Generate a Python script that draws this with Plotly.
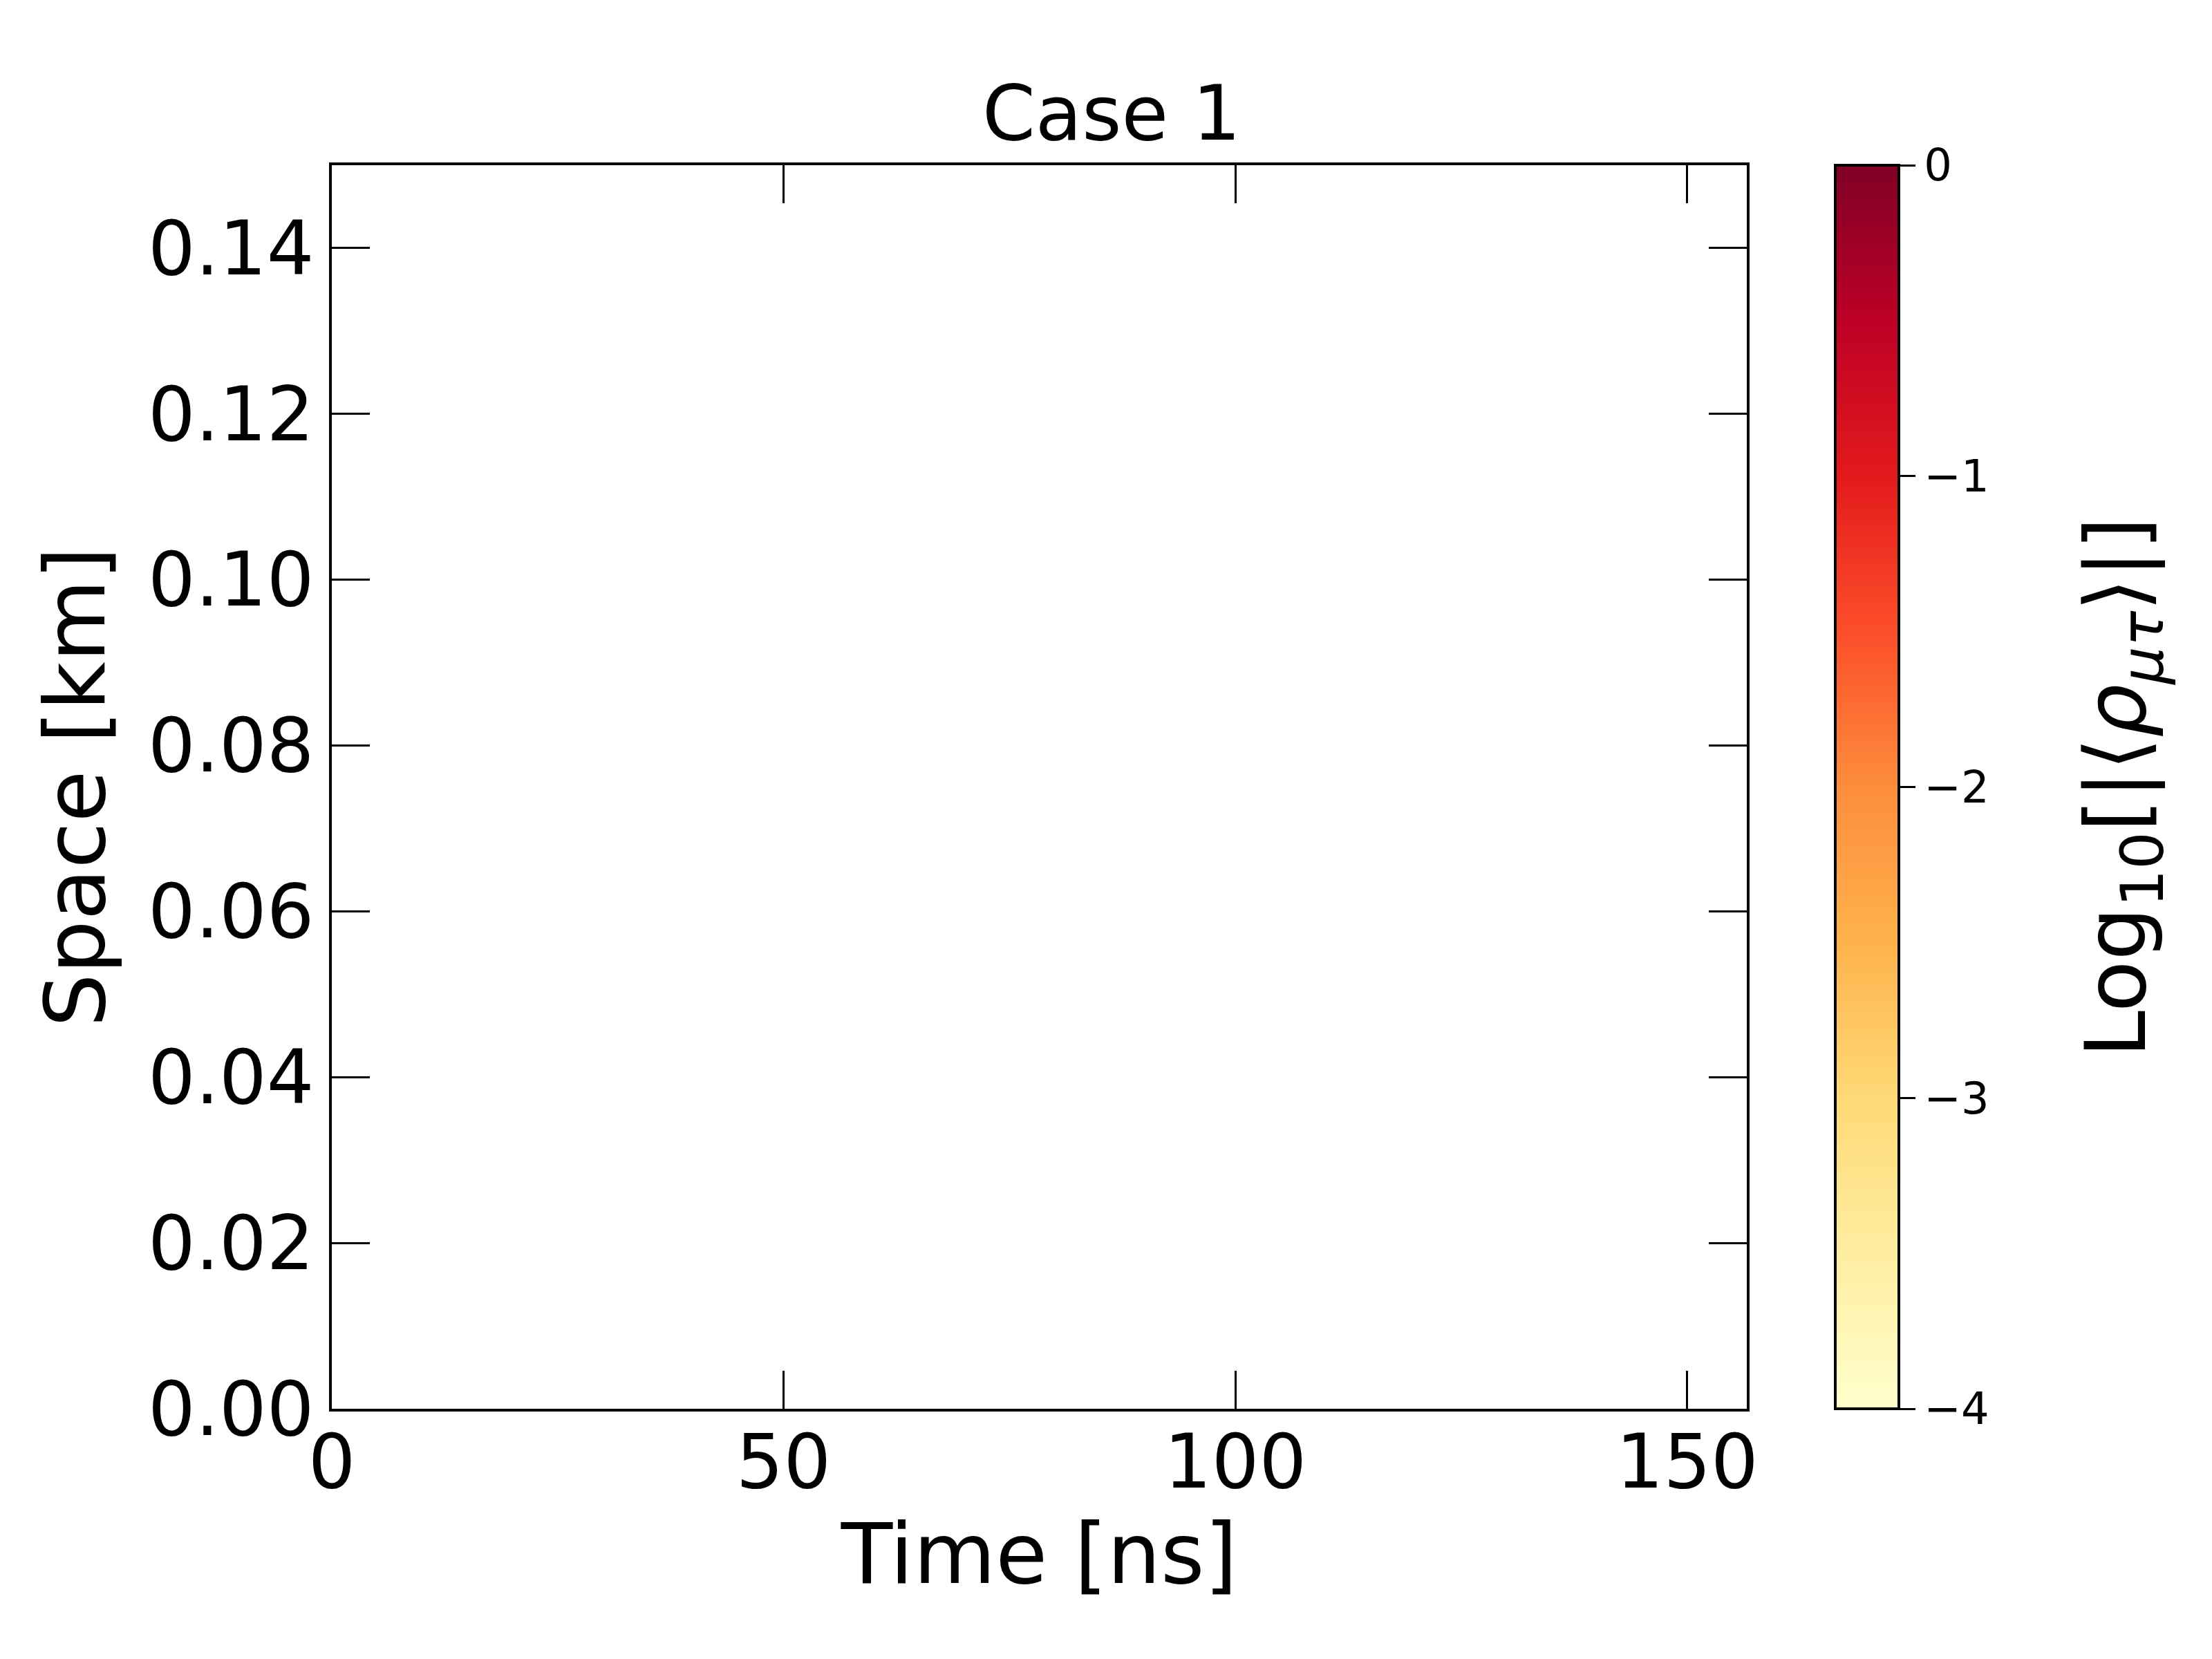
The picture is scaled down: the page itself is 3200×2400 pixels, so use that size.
import plotly.graph_objects as go

# grid of the simulation: time in ns, space in km
time_ns = [0.0, 156.6]
space_km = [0.0, 0.15]
# log10 |<rho_mu_tau>| -- nothing above the colour floor, so every cell is empty
log_rho = [[None, None], [None, None]]

cb_ticks = [0, -1, -2, -3, -4]
cb_range = [-4, 0]
ylorrd = ["#ffffcc", "#ffeda0", "#fed976", "#feb24c", "#fd8d3c",
          "#fc4e2a", "#e31a1c", "#bd0026", "#800026"]
scale = [[i / (len(ylorrd) - 1), c] for i, c in enumerate(ylorrd)]

FONT = "DejaVu Sans"

fig = go.Figure()
fig.add_trace(go.Heatmap(
    x=time_ns, y=space_km, z=log_rho,
    zmin=cb_range[0], zmax=cb_range[1], colorscale=scale, showscale=False,
))

# an empty-looking carrier for the colour bar (heatmap with no values hides it)
fig.add_trace(go.Scatter(
    x=[None, None], y=[None, None], mode="markers", showlegend=False,
    marker=dict(
        color=cb_range, cmin=cb_range[0], cmax=cb_range[1], colorscale=scale,
        showscale=True,
        colorbar=dict(
            x=1.0625, xanchor="left", xref="paper", xpad=0, ypad=0,
            y=0.5, yanchor="middle", len=1, lenmode="fraction",
            thickness=92, thicknessmode="pixels",
            outlinewidth=4, outlinecolor="black",
            tickvals=cb_ticks, ticks="outside", ticklen=22, tickwidth=3,
            tickprefix="\u2002",
            tickcolor="black", tickfont=dict(family=FONT, size=64, color="black"),
        ),
    ),
))

# colour bar label, placed by hand so it sits as far out as in the original
fig.add_annotation(
    text="Log<sub>10</sub>[|⟨<i>ρ</i><sub><i>μτ</i></sub>⟩|]",
    xref="paper", yref="paper", x=1.265, y=0.5,
    xanchor="center", yanchor="middle", textangle=-90, showarrow=False,
    font=dict(family=FONT, size=122, color="black"),
)

axis_common = dict(
    showline=True, linewidth=4, linecolor="black", mirror="ticks",
    ticks="inside", ticklen=55, tickwidth=3, tickcolor="black",
    showgrid=False, zeroline=False,
    tickfont=dict(family=FONT, size=108, color="black"),
)

fig.update_layout(
    width=3200, height=2400,
    margin=dict(l=472, r=681, t=231, b=370),
    paper_bgcolor="white", plot_bgcolor="white",
    font=dict(family=FONT, color="black"),
    showlegend=False,
    title=dict(text="Case 1", x=0.5, xref="container", xanchor="center",
               y=1 - 155 / 2400, yref="container", yanchor="middle",
               font=dict(family=FONT, size=110, color="black")),
    xaxis=dict(range=[0, 156.6], tickvals=[0, 50, 100, 150], ticklabelstandoff=-20,
               title=dict(text="Time [ns]", standoff=30,
                          font=dict(family=FONT, size=122, color="black")),
               **axis_common),
    yaxis=dict(range=[0, 0.15], tickvals=[0, 0.02, 0.04, 0.06, 0.08, 0.10, 0.12, 0.14],
               tickformat=".2f", ticklabelstandoff=0,
               title=dict(text="Space [km]", standoff=22,
                          font=dict(family=FONT, size=122, color="black")),
               **axis_common),
)

fig.write_html("out.html")
